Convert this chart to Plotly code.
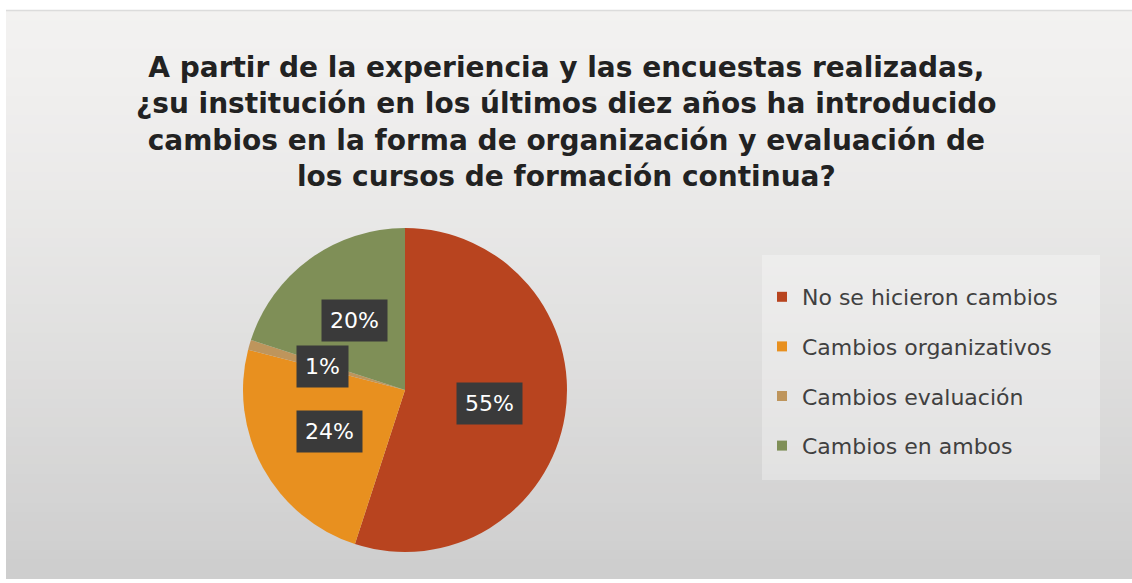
import math
import plotly.graph_objects as go

# Survey answers and their shares (%)
categories = ["No se hicieron cambios", "Cambios organizativos",
              "Cambios evaluación", "Cambios en ambos"]
values = [55, 24, 1, 20]
colors = ["#B8441F", "#E8901F", "#BE955C", "#7F8F57"]

title_lines = [
    "A partir de la experiencia y las encuestas realizadas,",
    "¿su institución en los últimos diez años ha introducido",
    "cambios en la forma de organización y evaluación de",
    "los cursos de formación continua?",
]

W, H = 1132, 583
# pie domain in pixels (left, right, top, bottom)
px_l, px_r, px_t, px_b = 243, 567, 228, 552
dom_x = [px_l / W, px_r / W]
dom_y = [1 - px_b / H, 1 - px_t / H]

fig = go.Figure()
fig.add_trace(go.Pie(
    labels=categories, values=values, sort=False, direction="clockwise",
    rotation=0, marker=dict(colors=colors, line=dict(width=0)),
    textinfo="none", hoverinfo="label+percent", showlegend=False,
    domain=dict(x=dom_x, y=dom_y),
))

# legend entries as separate groups so they can be spaced apart
for cat, col in zip(categories, colors):
    fig.add_trace(go.Scatter(
        x=[None], y=[None], mode="markers", name=cat, legendgroup=cat,
        marker=dict(symbol="square", size=10, color=col),
    ))

# background: vertical light-to-grey gradient built from thin bands
shapes = []
top, bottom = 11, 578
n = 60
c0 = (243, 242, 241)
c1 = (206, 206, 206)
for i in range(n):
    t = i / (n - 1)
    c = tuple(int(c0[k] + (c1[k] - c0[k]) * t ** 1.3) for k in range(3))
    y0 = top + (bottom - top) * i / n
    y1 = top + (bottom - top) * (i + 1) / n + 1
    shapes.append(dict(type="rect", xref="paper", yref="paper",
                       x0=6 / W, x1=1, y0=1 - y1 / H, y1=1 - y0 / H,
                       fillcolor="rgb(%d,%d,%d)" % c, line=dict(width=0),
                       layer="below"))
shapes.append(dict(type="line", xref="paper", yref="paper",
                   x0=6 / W, x1=1, y0=1 - 10.5 / H, y1=1 - 10.5 / H,
                   line=dict(color="#dcdcdc", width=1.5), layer="below"))
# lighter panel behind the legend
shapes.append(dict(type="rect", xref="paper", yref="paper",
                   x0=762 / W, x1=1100 / W, y0=1 - 480 / H, y1=1 - 255 / H,
                   fillcolor="rgba(255,255,255,0.3)", line=dict(width=0),
                   layer="below"))

# percentage labels in dark boxes placed along each slice's mid-angle
annotations = []
cx = (px_l + px_r) / 2
cy = (px_t + px_b) / 2
r = (px_r - px_l) / 2
total = sum(values)
cum = 0
for v in values:
    mid = (cum + v / 2) / total * 2 * math.pi
    cum += v
    lx = cx + 0.53 * r * math.sin(mid)
    ly = cy - 0.53 * r * math.cos(mid)
    annotations.append(dict(
        x=lx / W, y=1 - ly / H, xref="paper", yref="paper",
        xanchor="center", yanchor="middle",
        text="%d%%" % round(v / total * 100), showarrow=False,
        font=dict(family="DejaVu Sans", size=22, color="white"),
        bgcolor="#3a3a3a", borderpad=8,
    ))

annotations.append(dict(
    x=0.5, y=1 - 122 / H, xref="paper", yref="paper",
    text="<b>" + "<br>".join(title_lines) + "</b>", showarrow=False,
    font=dict(family="DejaVu Sans", size=28, color="#222222"),
    align="center", xanchor="center", yanchor="middle",
))

fig.update_layout(
    width=W, height=H, margin=dict(l=0, r=0, t=0, b=0),
    paper_bgcolor="white", plot_bgcolor="rgba(0,0,0,0)",
    xaxis=dict(visible=False), yaxis=dict(visible=False),
    shapes=shapes, annotations=annotations,
    legend=dict(x=762 / W, y=1 - 276 / H, xanchor="left", yanchor="top",
                bgcolor="rgba(0,0,0,0)", tracegroupgap=18,
                font=dict(family="DejaVu Sans", size=22, color="#404040"),
                itemclick=False, itemdoubleclick=False),
)

fig.write_html("out.html")
